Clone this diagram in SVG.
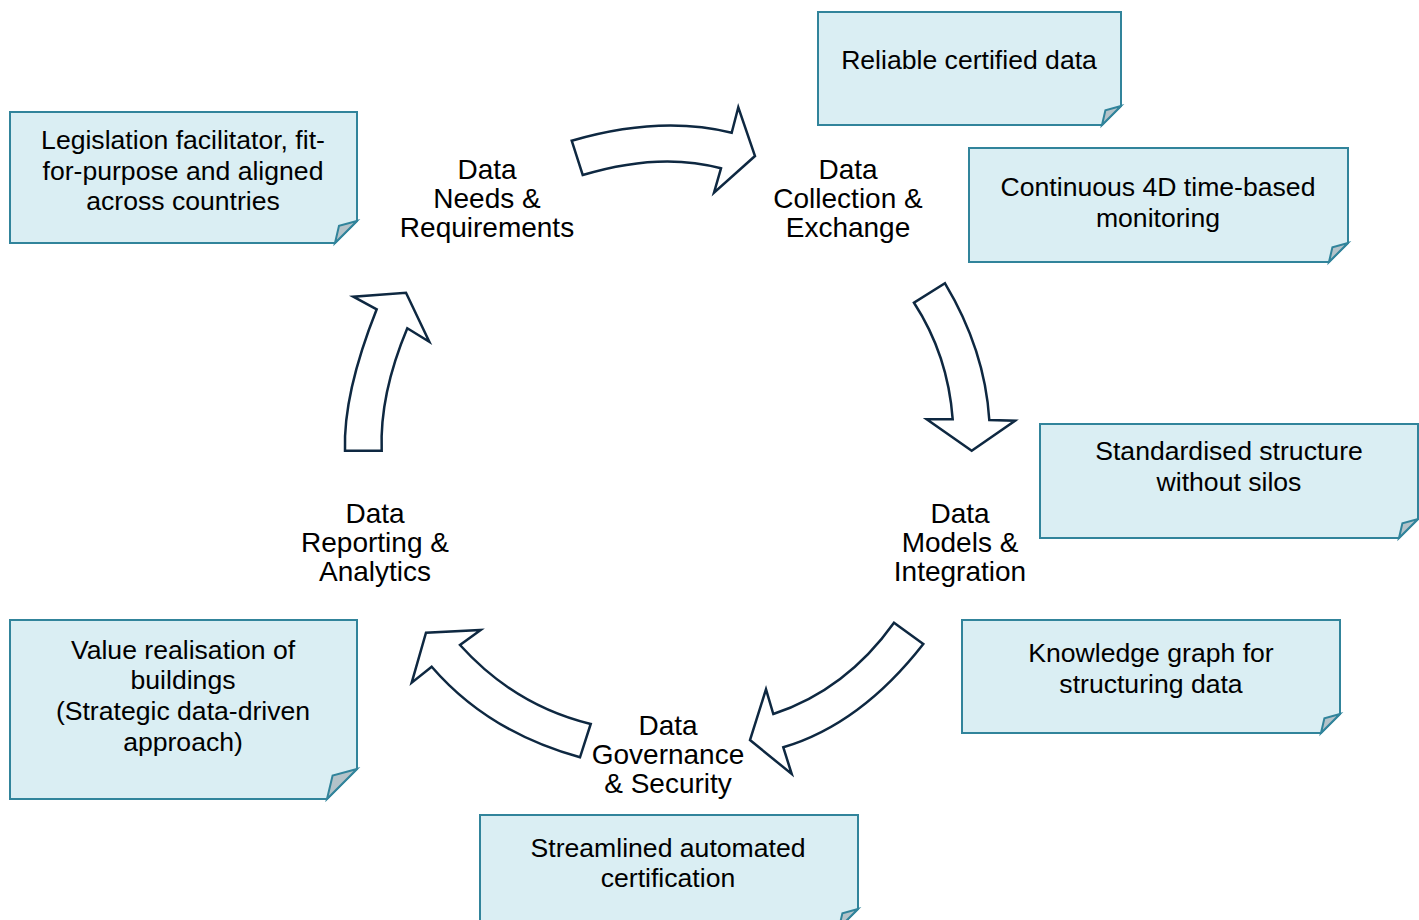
<svg xmlns="http://www.w3.org/2000/svg" width="1419" height="920" viewBox="0 0 1419 920">
  <style>
    .note { fill: #daeef3; stroke: #31849b; stroke-width: 2; stroke-linejoin: miter; }
    .fold { fill: #b4c3c9; stroke: #31849b; stroke-width: 2; stroke-linejoin: miter; }
    .arrow { fill: #ffffff; stroke: #0e2841; stroke-width: 2.5; stroke-linejoin: miter; }
    text { font-family: "Liberation Sans", Arial, sans-serif; font-size: 26.6px; fill: #000000; text-anchor: middle; }
    .stage text { font-size: 28px; }
  </style>
  <rect width="1419" height="920" fill="#ffffff"/>

  <!-- curved cycle arrows -->
  <g id="connectors">
    <path class="arrow" d="M571.7,140.7 Q660,115 731.7,132.7 L738.3,107.3 L755,156 L714,192.7 L721,168.3 Q660,151.7 582.7,175 Z"/>
    <path class="arrow" d="M945,283.3 Q985,350 989.3,420 L1015,420.7 L971.7,450.7 L926.7,419.3 L952.7,419.3 Q948,355 914,302.7 Z"/>
    <path class="arrow" d="M894,622.7 L923.3,644 Q860.7,724.3 783.3,747.3 L791.7,774 L750,740 L766,689.3 L773.3,714 Q846,690 894,622.7 Z"/>
    <path class="arrow" d="M590.7,724 L580,757.3 Q488,732 431.7,666.7 L411.7,682.7 L426,632.7 L480.7,630 L460,645 Q514.6,705.5 590.7,724 Z"/>
    <path class="arrow" d="M345,450.7 L381.7,450.7 Q379.5,394.5 407.3,328.3 L429.3,341.7 L406,292.7 L353.3,296.7 L376.7,309.3 Q343,394 345,450.7 Z"/>
  </g>

  <!-- cycle stage labels -->
  <g id="stage-needs" class="stage">
    <text x="487" y="179">Data</text>
    <text x="487" y="208">Needs &amp;</text>
    <text x="487" y="237">Requirements</text>
  </g>
  <g id="stage-collection" class="stage">
    <text x="848" y="179">Data</text>
    <text x="848" y="208">Collection &amp;</text>
    <text x="848" y="237">Exchange</text>
  </g>
  <g id="stage-models" class="stage">
    <text x="960" y="523">Data</text>
    <text x="960" y="552">Models &amp;</text>
    <text x="960" y="581">Integration</text>
  </g>
  <g id="stage-governance" class="stage">
    <text x="668" y="735">Data</text>
    <text x="668" y="764">Governance</text>
    <text x="668" y="793">&amp; Security</text>
  </g>
  <g id="stage-reporting" class="stage">
    <text x="375" y="523">Data</text>
    <text x="375" y="552">Reporting &amp;</text>
    <text x="375" y="581">Analytics</text>
  </g>

  <!-- sticky notes with folded corner -->
  <g id="note-legislation">
    <path class="note" d="M10,112 H357 V221 L335,243 H10 Z"/>
    <path class="fold" d="M335,243 L339,225.8 L357,221 Z"/>
    <text x="183" y="149">Legislation facilitator, fit-</text>
    <text x="183" y="180">for-purpose and aligned</text>
    <text x="183" y="210">across countries</text>
  </g>
  <g id="note-certified">
    <path class="note" d="M818,12 H1121 V106 L1102,125 H818 Z"/>
    <path class="fold" d="M1102,125 L1105.4,110.2 L1121,106 Z"/>
    <text x="969" y="69">Reliable certified data</text>
  </g>
  <g id="note-monitoring">
    <path class="note" d="M969,148 H1348 V243 L1329,262 H969 Z"/>
    <path class="fold" d="M1329,262 L1332.4,247.2 L1348,243 Z"/>
    <text x="1158" y="196">Continuous 4D time-based</text>
    <text x="1158" y="227">monitoring</text>
  </g>
  <g id="note-structure">
    <path class="note" d="M1040,424 H1418 V519 L1399,538 H1040 Z"/>
    <path class="fold" d="M1399,538 L1402.4,523.2 L1418,519 Z"/>
    <text x="1229" y="460">Standardised structure</text>
    <text x="1229" y="491">without silos</text>
  </g>
  <g id="note-knowledge">
    <path class="note" d="M962,620 H1340 V714 L1321,733 H962 Z"/>
    <path class="fold" d="M1321,733 L1324.4,718.2 L1340,714 Z"/>
    <text x="1151" y="662">Knowledge graph for</text>
    <text x="1151" y="693">structuring data</text>
  </g>
  <g id="note-value">
    <path class="note" d="M10,620 H357 V769 L327,799 H10 Z"/>
    <path class="fold" d="M327,799 L332.6,775.6 L357,769 Z"/>
    <text x="183" y="659">Value realisation of</text>
    <text x="183" y="689">buildings</text>
    <text x="183" y="720">(Strategic data-driven</text>
    <text x="183" y="751">approach)</text>
  </g>
  <g id="note-certification">
    <path class="note" d="M480,815 H858 V909 L839,928 H480 Z"/>
    <path class="fold" d="M839,928 L842.4,913.2 L858,909 Z"/>
    <text x="668" y="857">Streamlined automated</text>
    <text x="668" y="887">certification</text>
  </g>
</svg>
